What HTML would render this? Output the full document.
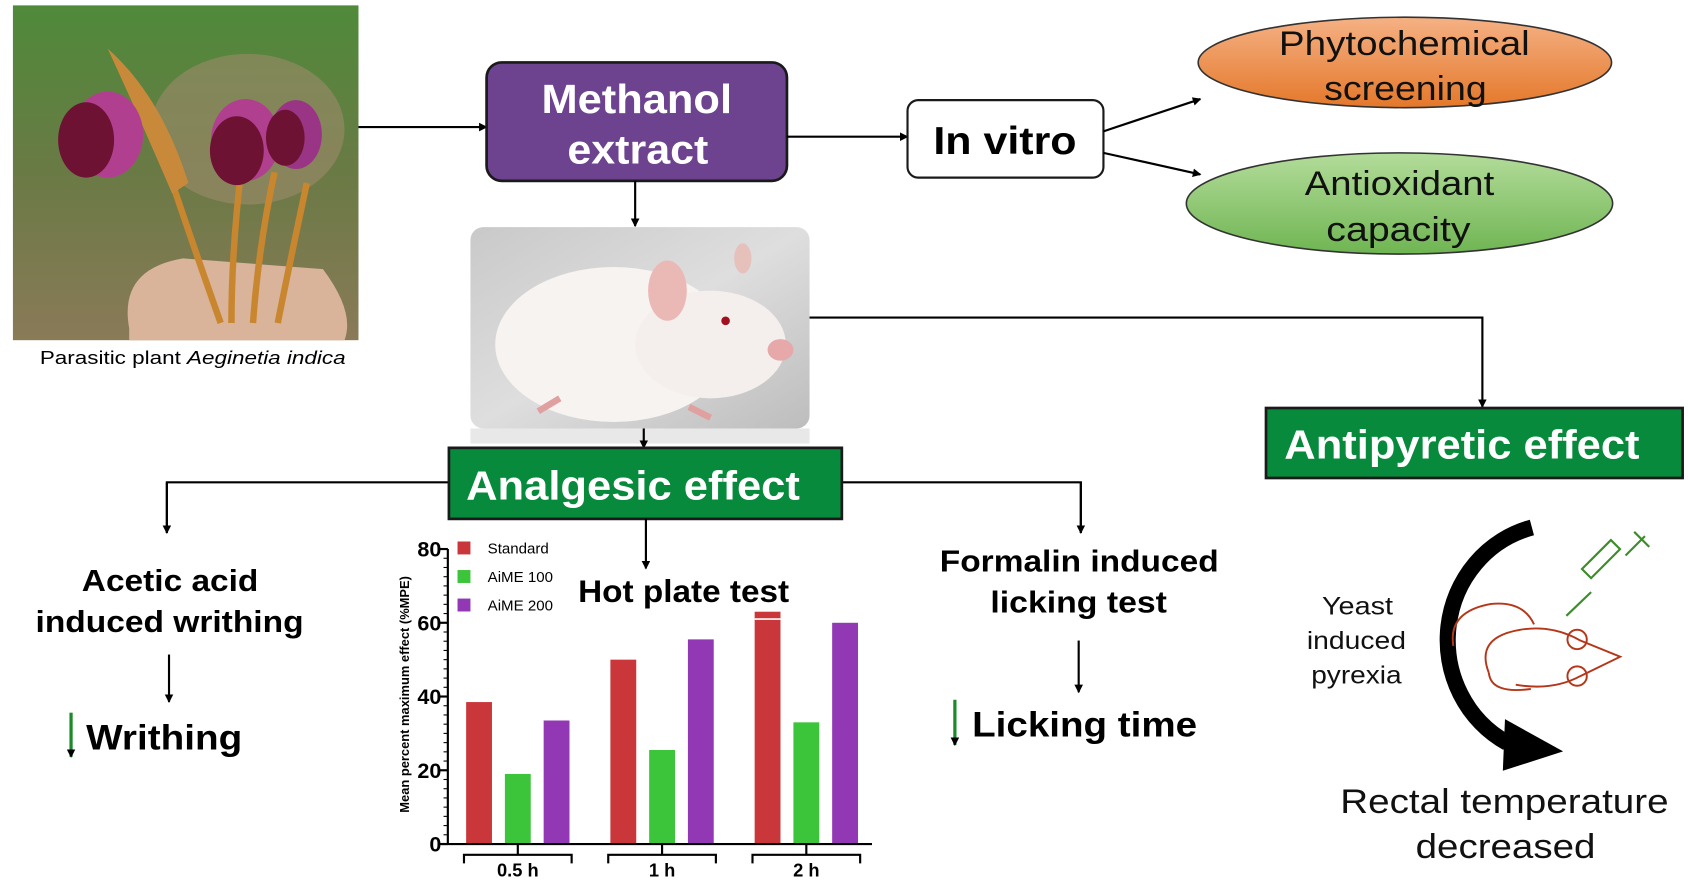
<!DOCTYPE html>
<html><head><meta charset="utf-8">
<style>
html,body{margin:0;padding:0;background:#fff;}
svg{display:block;font-family:"Liberation Sans",Arial,sans-serif;}
</style></head>
<body>
<svg id="root" width="1688" height="886" viewBox="0 0 1568 823" preserveAspectRatio="none">
<defs>
  <linearGradient id="bgPlant" x1="0" y1="0" x2="0" y2="1">
    <stop offset="0" stop-color="#4f8a3a"/><stop offset="0.5" stop-color="#6a7a45"/><stop offset="1" stop-color="#8a7a58"/>
  </linearGradient>
  <linearGradient id="bgMouse" x1="0" y1="0" x2="1" y2="1">
    <stop offset="0" stop-color="#c9c9c9"/><stop offset="0.5" stop-color="#dedede"/><stop offset="1" stop-color="#bdbdbd"/>
  </linearGradient>
  <linearGradient id="orangeG" x1="0" y1="0" x2="0" y2="1">
    <stop offset="0" stop-color="#f5b184"/><stop offset="1" stop-color="#e4782a"/>
  </linearGradient>
  <linearGradient id="greenG" x1="0" y1="0" x2="0" y2="1">
    <stop offset="0" stop-color="#b3dc9a"/><stop offset="1" stop-color="#6fb552"/>
  </linearGradient>
  <marker id="ah" markerWidth="8" markerHeight="8" refX="7" refY="4" orient="auto" markerUnits="userSpaceOnUse">
    <path d="M0,0 L8,4 L0,8 z" fill="#000"/>
  </marker>
</defs>

<g>
  <rect x="12" y="5" width="321" height="311" fill="url(#bgPlant)"/>
  <ellipse cx="230" cy="120" rx="90" ry="70" fill="#9c8a6a" opacity="0.6"/>
  <path d="M120,305 Q110,250 170,240 L300,250 Q330,290 320,316 L120,316z" fill="#d9b39a"/>
  <g stroke="#c8862e" stroke-width="6" fill="none">
    <path d="M150,140 Q180,230 205,300"/><path d="M225,150 Q215,230 215,300"/>
    <path d="M255,160 Q240,230 235,300"/><path d="M285,170 Q270,240 258,300"/>
  </g>
  <path d="M100,45 Q150,90 175,170 L160,180 Q130,110 100,45z" fill="#c88a3a"/>
  <ellipse cx="100" cy="125" rx="33" ry="40" fill="#b0408f"/>
  <ellipse cx="80" cy="130" rx="26" ry="35" fill="#6e1233"/>
  <ellipse cx="228" cy="130" rx="32" ry="38" fill="#b0408f"/>
  <ellipse cx="220" cy="140" rx="25" ry="32" fill="#6e1233"/>
  <ellipse cx="275" cy="125" rx="24" ry="32" fill="#9a3585"/>
  <ellipse cx="265" cy="128" rx="18" ry="26" fill="#6e1233"/>
</g>
<text x="37" y="338" font-size="17" fill="#000" textLength="284" lengthAdjust="spacingAndGlyphs">Parasitic plant <tspan font-style="italic">Aeginetia indica</tspan></text>

<line x1="333" y1="118" x2="452" y2="118" stroke="#000" stroke-width="2" marker-end="url(#ah)"/>
<g>
  <rect x="452" y="58" width="279" height="110" rx="14" fill="#6d438f" stroke="#1a1a1a" stroke-width="2.5"/>
  <text x="503" y="105" font-size="38" font-weight="bold" fill="#fff" textLength="177" lengthAdjust="spacingAndGlyphs">Methanol</text>
  <text x="527" y="152" font-size="38" font-weight="bold" fill="#fff" textLength="131" lengthAdjust="spacingAndGlyphs">extract</text>
</g>
<line x1="731" y1="127" x2="843" y2="127" stroke="#000" stroke-width="2" marker-end="url(#ah)"/>
<g>
  <rect x="843" y="93" width="182" height="72" rx="10" fill="#fff" stroke="#1a1a1a" stroke-width="2"/>
  <text x="867" y="143" font-size="36" font-weight="bold" fill="#000" textLength="133" lengthAdjust="spacingAndGlyphs">In vitro</text>
</g>
<line x1="1025" y1="122" x2="1115" y2="92" stroke="#000" stroke-width="2" marker-end="url(#ah)"/>
<line x1="1025" y1="142" x2="1115" y2="162" stroke="#000" stroke-width="2" marker-end="url(#ah)"/>
<g>
  <ellipse cx="1305" cy="58" rx="192" ry="42" fill="url(#orangeG)" stroke="#333" stroke-width="1.5"/>
  <text x="1188" y="51" font-size="32" fill="#111" textLength="233" lengthAdjust="spacingAndGlyphs">Phytochemical</text>
  <text x="1230" y="93" font-size="32" fill="#111" textLength="151" lengthAdjust="spacingAndGlyphs">screening</text>
</g>
<g>
  <ellipse cx="1300" cy="189" rx="198" ry="47" fill="url(#greenG)" stroke="#333" stroke-width="1.5"/>
  <text x="1212" y="181" font-size="32" fill="#111" textLength="176" lengthAdjust="spacingAndGlyphs">Antioxidant</text>
  <text x="1232" y="224" font-size="32" fill="#111" textLength="134" lengthAdjust="spacingAndGlyphs">capacity</text>
</g>

<line x1="590" y1="168" x2="590" y2="210" stroke="#000" stroke-width="2" marker-end="url(#ah)"/>
<g>
  <rect x="437" y="211" width="315" height="187" rx="12" fill="url(#bgMouse)"/>
  <rect x="437" y="398" width="315" height="14" fill="#e8e8e8"/>
  <ellipse cx="570" cy="320" rx="110" ry="72" fill="#f6f3f1"/>
  <ellipse cx="660" cy="320" rx="70" ry="50" fill="#f4efec"/>
  <ellipse cx="620" cy="270" rx="18" ry="28" fill="#eab9b5"/>
  <ellipse cx="690" cy="240" rx="8" ry="14" fill="#e6c0bb"/>
  <circle cx="674" cy="298" r="4" fill="#a01020"/>
  <ellipse cx="725" cy="325" rx="12" ry="10" fill="#e6a8a8"/>
  <path d="M520,370 l-20,12 M640,378 l20,10" stroke="#e0a0a0" stroke-width="6"/>
</g>

<polyline points="752,295 1377,295 1377,378" fill="none" stroke="#000" stroke-width="2" marker-end="url(#ah)"/>
<g>
  <rect x="1176" y="379" width="387" height="65" fill="#078a3c" stroke="#1a1a1a" stroke-width="2.5"/>
  <text x="1193" y="426" font-size="38" font-weight="bold" fill="#fff" textLength="330" lengthAdjust="spacingAndGlyphs">Antipyretic effect</text>
</g>

<line x1="598" y1="398" x2="598" y2="416" stroke="#000" stroke-width="2" marker-end="url(#ah)"/>
<polyline points="155,495 155,448 1004,448 1004,495" fill="none" stroke="#000" stroke-width="2"/>
<line x1="155" y1="448" x2="155" y2="495" stroke="#000" stroke-width="2" marker-end="url(#ah)"/>
<line x1="1004" y1="448" x2="1004" y2="495" stroke="#000" stroke-width="2" marker-end="url(#ah)"/>
<g>
  <rect x="417" y="416" width="365" height="66" fill="#078a3c" stroke="#1a1a1a" stroke-width="2.5"/>
  <text x="433" y="464" font-size="38" font-weight="bold" fill="#fff" textLength="310" lengthAdjust="spacingAndGlyphs">Analgesic effect</text>
</g>
<line x1="600" y1="482" x2="600" y2="528" stroke="#000" stroke-width="2" marker-end="url(#ah)"/>

<text x="76" y="549" font-size="28" font-weight="bold" textLength="164" lengthAdjust="spacingAndGlyphs">Acetic acid</text>
<text x="33" y="587" font-size="28" font-weight="bold" textLength="249" lengthAdjust="spacingAndGlyphs">induced writhing</text>
<line x1="157" y1="608" x2="157" y2="652" stroke="#000" stroke-width="2" marker-end="url(#ah)"/>
<line x1="66" y1="662" x2="66" y2="703" stroke="#1a8a2a" stroke-width="3" marker-end="url(#ah)"/>
<text x="80" y="696" font-size="33" font-weight="bold" textLength="145" lengthAdjust="spacingAndGlyphs">Writhing</text>

<text x="873" y="531" font-size="28" font-weight="bold" textLength="259" lengthAdjust="spacingAndGlyphs">Formalin induced</text>
<text x="920" y="569" font-size="28" font-weight="bold" textLength="164" lengthAdjust="spacingAndGlyphs">licking test</text>
<line x1="1002" y1="595" x2="1002" y2="643" stroke="#000" stroke-width="2" marker-end="url(#ah)"/>
<line x1="887" y1="650" x2="887" y2="692" stroke="#1a8a2a" stroke-width="3" marker-end="url(#ah)"/>
<text x="903" y="684" font-size="33" font-weight="bold" textLength="209" lengthAdjust="spacingAndGlyphs">Licking time</text>

<g id="chart"></g>
<text x="537" y="559" font-size="29" font-weight="bold" textLength="196" lengthAdjust="spacingAndGlyphs">Hot plate test</text>

<text x="1228" y="571" font-size="23" fill="#111" textLength="66" lengthAdjust="spacingAndGlyphs">Yeast</text>
<text x="1214" y="603" font-size="23" fill="#111" textLength="92" lengthAdjust="spacingAndGlyphs">induced</text>
<text x="1218" y="635" font-size="23" fill="#111" textLength="84" lengthAdjust="spacingAndGlyphs">pyrexia</text>
<path d="M1423,490 A104,108 0 0 0 1400,690" fill="none" stroke="#000" stroke-width="15"/>
<path d="M1398,668 L1452,698 L1396,716 z" fill="#000"/>
<g fill="none" stroke="#b5371a" stroke-width="1.8">
  <path d="M1350,600 Q1345,568 1385,561 Q1415,558 1425,580"/>
  <path d="M1383,625 Q1370,592 1412,585 Q1442,580 1468,595 L1505,610 L1468,628 Q1442,642 1408,636"/>
  <circle cx="1465" cy="594" r="9"/><circle cx="1465" cy="628" r="9"/>
  <path d="M1383,625 Q1385,645 1422,640"/>
</g>
<g stroke="#3d8c2a" stroke-width="2" fill="none">
  <line x1="1455" y1="572" x2="1478" y2="550"/>
  <rect x="1478" y="525" width="38" height="12" transform="rotate(-45 1478 537)"/>
  <line x1="1510" y1="516" x2="1528" y2="498"/>
  <line x1="1518" y1="494" x2="1532" y2="508"/>
</g>
<text x="1245" y="755" font-size="32" fill="#111" textLength="305" lengthAdjust="spacingAndGlyphs">Rectal temperature</text>
<text x="1315" y="797" font-size="32" fill="#111" textLength="167" lengthAdjust="spacingAndGlyphs">decreased</text>

<script>
const categories = ["0.5 h", "1 h", "2 h"];
const seriesNames = ["Standard", "AiME 100", "AiME 200"];
const standardValues = [38.5, 50, 63];
const aime100Values = [19, 25.5, 33];
const aime200Values = [33.5, 55.5, 60];
const yTicks = [0, 20, 40, 60, 80];

const NS = "http://www.w3.org/2000/svg";
const chart = document.getElementById("chart");
const colors = ["#c9373a", "#3cc43a", "#9238b5"];
const x0 = 416, xEnd = 810, yTop = 510, yBot = 784, yMax = 80;
function yScale(v){ return yBot - (v / yMax) * (yBot - yTop); }
function groupX(i){ return 433 + i * 134; }
function mk(tag, attrs){ const e = document.createElementNS(NS, tag); for (const k in attrs) e.setAttribute(k, attrs[k]); chart.appendChild(e); return e; }

const series = [standardValues, aime100Values, aime200Values];
series.forEach(function(vals, s){
  vals.forEach(function(v, i){
    const r = mk("rect", {x: groupX(i) + s * 36, y: yScale(v), width: 24, height: yBot - yScale(v), fill: colors[s]});
    
    
  });
});
const sep = mk("line", {x1: groupX(2), x2: groupX(2) + 24, y1: yScale(61), y2: yScale(61), stroke: "#fff", "stroke-width": 1.5});



const ya = mk("line", {x1: x0, x2: x0, y1: yTop, y2: yBot, stroke: "#000", "stroke-width": 2});


const xa = mk("line", {x1: x0 - 6, x2: xEnd, y1: yBot, y2: yBot, stroke: "#000", "stroke-width": 2});


for (let v = 0; v <= yMax; v += 2.5) {
  const t = mk("line", {x1: x0 - 4, x2: x0, y1: yScale(v), y2: yScale(v), stroke: "#000", "stroke-width": 1});
  
  
}
yTicks.forEach(function(v){
  const t = mk("line", {x1: x0 - 8, x2: x0, y1: yScale(v), y2: yScale(v), stroke: "#000", "stroke-width": 2});
  
  
  const l = mk("text", {x: x0 - 6, y: yScale(v) + 7, "text-anchor": "end", "font-size": 20, "font-weight": "bold"});
  l.textContent = v;
  
  
});
const yt = mk("text", {x: 380, y: 645, "text-anchor": "middle", "font-size": 12, "font-weight": "bold", transform: "rotate(-90 380 645)"});
yt.textContent = "Mean percent maximum effect (%MPE)";



categories.forEach(function(c, i){
  const cx = groupX(i) + 48;
  const b = mk("path", {d: "M" + (cx - 50) + "," + 802 + " V794 H" + (cx + 50) + " V802 M" + cx + ",784 V794", fill: "none", stroke: "#000", "stroke-width": 2});
  
  
  const l = mk("text", {x: cx, y: 814, "text-anchor": "middle", "font-size": 17, "font-weight": "bold"});
  l.textContent = c;
  
  
});

seriesNames.forEach(function(n, s){
  const yy = 503 + s * 26.5;
  const r = mk("rect", {x: 425, y: yy, width: 12, height: 12, fill: colors[s]});
  
  
  const t = mk("text", {x: 453, y: yy + 11, "font-size": 14});
  t.textContent = n;
  
  
});
</script>
</svg>
</body></html>
